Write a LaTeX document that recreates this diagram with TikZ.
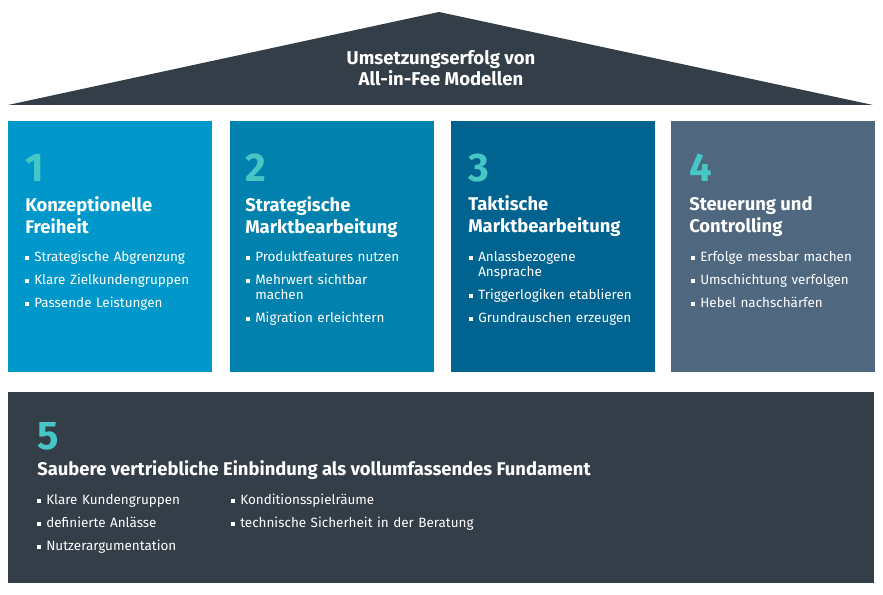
\documentclass[tikz,border=0pt]{standalone}
\usepackage{fontspec}
\setmainfont{Fira Sans}
\usetikzlibrary{positioning}

\definecolor{roofdark}{HTML}{343E48}
\definecolor{pillarA}{HTML}{0097CB}
\definecolor{pillarB}{HTML}{0081AE}
\definecolor{pillarC}{HTML}{006390}
\definecolor{pillarD}{HTML}{4F6880}
\definecolor{numteal}{HTML}{47C6C6}

\newcommand\pitem[1]{\par\hangindent=6.75pt\hangafter=1\noindent
  \makebox[6.75pt][l]{\raisebox{0.22ex}{\rule{2.6pt}{2.6pt}}}#1}

\begin{document}
\begin{tikzpicture}[
        x=0.75pt, y=-0.75pt,
        pillar/.style={
            fill=#1, anchor=north west, inner sep=0,
            minimum width=152.6pt, minimum height=188.25pt
        },
        bignum/.style={
            text=numteal, anchor=base west, inner sep=0,
            font=\bfseries\fontsize{30}{30}\selectfont
        },
        ptitle/.style={
            text=white, align=left, inner sep=0,
            font=\bfseries\fontsize{13.8}{16.5}\selectfont
        },
        plist/.style={
            text=white, anchor=north west, inner sep=0,
            text width=190pt, align=left,
            font=\fontsize{10.1}{11.25}\selectfont\setlength{\parskip}{6pt}
        }
    ]
    \useasboundingbox (0,0) rectangle (883,595);

    % roof
    \fill[roofdark] (8,105) -- (439,12) -- (873,105) -- cycle;
    \node[text=white, align=center, inner sep=0,
          font=\bfseries\fontsize{13.9}{15.75}\selectfont] (roof) at (441,68)
        {Umsetzungserfolg von\\All-in-Fee Modellen};

    % pillars
    \node[pillar=pillarA] (p1) at (8,121) {};
    \node[pillar=pillarB] (p2) at (230,121) {};
    \node[pillar=pillarC] (p3) at (451,121) {};
    \node[pillar=pillarD] (p4) at (671,121) {};

    \node[bignum] (n1) at (25,182) {1};
    \node[bignum] (n2) at (245,182) {2};
    \node[bignum] (n3) at (468,182) {3};
    \node[bignum] (n4) at (689,182) {4};

    \node[ptitle, below right=10.5pt and 0pt of n1.base west] (t1) {Konzeptionelle\\Freiheit};
    \node[ptitle, below right=10.5pt and 0pt of n2.base west] (t2) {Strategische\\Marktbearbeitung};
    \node[ptitle, below right=9.9pt and 0pt of n3.base west] (t3) {Taktische\\Marktbearbeitung};
    \node[ptitle, below right=10.5pt and 0pt of n4.base west] (t4) {Steuerung und\\Controlling};

    \node[plist] (l1) at (25,238) {%
        \pitem{Strategische Abgrenzung}
        \pitem{Klare Zielkundengruppen}
        \pitem{Passende Leistungen}};
    \node[plist] (l2) at (246,238) {%
        \pitem{Produktfeatures nutzen}
        \pitem{Mehrwert sichtbar\newline machen}
        \pitem{Migration erleichtern}};
    \node[plist] (l3) at (469,238) {%
        \pitem{Anlassbezogene\newline Ansprache}
        \pitem{Triggerlogiken etablieren}
        \pitem{Grundrauschen erzeugen}};
    \node[plist] (l4) at (691,238) {%
        \pitem{Erfolge messbar machen}
        \pitem{Umschichtung verfolgen}
        \pitem{Hebel nachschärfen}};

    % foundation
    \node[fill=roofdark, anchor=north west, inner sep=0,
          minimum width=649.5pt, minimum height=143.25pt] (base) at (8,392) {};
    \node[bignum] (n5) at (37,450) {5};
    \node[ptitle, below right=7.5pt and 0pt of n5.base west] (t5)
        {Saubere vertriebliche Einbindung als vollumfassendes Fundament};
    \node[plist] (l5a) at (37,481) {%
        \pitem{Klare Kundengruppen}
        \pitem{definierte Anlässe}
        \pitem{Nutzerargumentation}};
    \node[plist] (l5b) at (231,481) {%
        \pitem{Konditionsspielräume}
        \pitem{technische Sicherheit in der Beratung}};
\end{tikzpicture}
\end{document}
